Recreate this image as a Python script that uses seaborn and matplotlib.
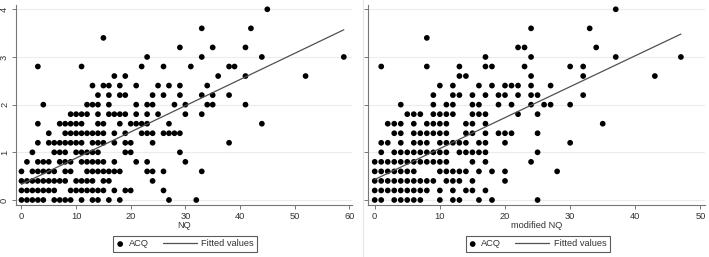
import numpy as np
import pandas as pd
import matplotlib
matplotlib.use('Agg')
import matplotlib.pyplot as plt
from matplotlib.lines import Line2D
from matplotlib.legend_handler import HandlerLine2D
import seaborn as sns

# ACQ levels (y) and the NQ values (x) seen at each level
acq_levels = [0.0, 0.2, 0.4, 0.6, 0.8, 1.0, 1.2, 1.4, 1.6, 1.8,
              2.0, 2.2, 2.4, 2.6, 2.8, 3.0, 3.2, 3.4, 3.6, 4.0]

nq_by_level = [
    [0, 1, 2, 3, 4, 6, 7, 8, 9, 11, 13, 14, 16, 18, 27, 32],
    [0, 1, 2, 3, 4, 5, 6, 9, 10, 11, 12, 13, 14, 15, 17, 19, 20, 26],
    [0, 1, 2, 3, 4, 5, 6, 7, 8, 10, 11, 12, 13, 15, 16, 24],
    [0, 2, 3, 4, 5, 6, 8, 9, 12, 13, 14, 15, 16, 17, 18, 23, 24, 26, 33],
    [1, 3, 4, 5, 7, 8, 9, 11, 12, 13, 14, 15, 17, 21, 23, 30],
    [2, 6, 7, 8, 10, 11, 12, 13, 14, 19, 20, 29],
    [3, 5, 6, 7, 8, 9, 10, 11, 13, 14, 15, 17, 19, 20, 24, 38],
    [5, 8, 9, 10, 11, 12, 13, 14, 15, 17, 19, 22, 23, 24, 26, 27, 28, 29],
    [3, 7, 8, 9, 10, 11, 14, 15, 18, 20, 21, 22, 23, 27, 44],
    [9, 10, 11, 12, 14, 16, 17, 18, 19, 21, 23, 25, 30, 33],
    [4, 12, 13, 14, 16, 21, 23, 24, 28, 30, 34, 35, 41],
    [14, 16, 18, 19, 24, 26, 29, 33, 35, 38],
    [13, 15, 16, 18, 21, 25, 27, 29, 34],
    [17, 19, 36, 41, 52],
    [3, 11, 22, 26, 31, 38, 39],
    [23, 33, 44, 59],
    [29, 35, 41],
    [15],
    [33, 42],
    [45],
]

mod_nq_by_level = [
    [0, 1, 3, 4, 5, 6, 7, 10, 12, 13, 16, 18, 25],
    [0, 1, 2, 3, 4, 5, 6, 7, 8, 10, 12, 14, 15, 17],
    [0, 1, 2, 3, 4, 5, 6, 7, 8, 9, 11, 12, 13, 15, 20],
    [0, 1, 2, 3, 4, 5, 6, 10, 11, 12, 13, 14, 16, 18, 20, 28],
    [0, 1, 2, 3, 4, 5, 6, 7, 8, 9, 10, 11, 15, 17, 24],
    [1, 3, 4, 5, 6, 7, 8, 9, 10, 11, 13, 14, 15, 16, 17, 25],
    [1, 2, 4, 6, 7, 8, 10, 11, 12, 13, 14, 16, 17, 20, 30],
    [3, 4, 6, 7, 8, 9, 10, 11, 14, 15, 17, 19, 20, 21, 25],
    [2, 3, 4, 6, 8, 9, 10, 11, 14, 15, 17, 35],
    [5, 6, 7, 9, 10, 11, 12, 15, 16, 17, 22, 25],
    [4, 9, 11, 12, 15, 16, 19, 21, 24, 26, 27, 30],
    [9, 12, 13, 15, 17, 19, 20, 22, 24, 25, 32],
    [10, 12, 16, 18, 20, 21, 22, 24, 27],
    [13, 14, 24, 32, 43],
    [1, 8, 13, 17, 18, 23, 30, 32],
    [17, 24, 37, 47],
    [22, 23, 34],
    [8],
    [24, 33],
    [37],
]

# fitted values (end points of the regression line)
fit_nq = [0, 59]
fit_acq_nq = [0.33, 3.57]
fit_mod_nq = [0, 47]
fit_acq_mod = [0.43, 3.48]

x_ticks_left = [0, 10, 20, 30, 40, 50, 60]
x_ticks_right = [0, 10, 20, 30, 40, 50]
y_ticks = [0, 1, 2, 3, 4]


def to_frame(levels, groups):
    rows = [(x, y) for y, xs in zip(levels, groups) for x in xs]
    return pd.DataFrame(rows, columns=['x', 'ACQ'])


class LongLine(HandlerLine2D):
    # line handle that reaches further left than the (short) handle box
    def __init__(self, extra, **kw):
        super().__init__(**kw)
        self.extra = extra

    def create_artists(self, legend, orig_handle, xdescent, ydescent,
                       width, height, fontsize, trans):
        return super().create_artists(legend, orig_handle, xdescent + self.extra,
                                      ydescent, width + self.extra, height,
                                      fontsize, trans)


df_left = to_frame(acq_levels, nq_by_level)
df_right = to_frame(acq_levels, mod_nq_by_level)

sns.set_style('white')
plt.rcParams['font.family'] = ['Liberation Sans', 'DejaVu Sans']
FS = 6.7
plt.rcParams['font.size'] = FS

W, H = 709, 257
fig = plt.figure(figsize=(W / 100, H / 100), dpi=100)

# axes boxes in pixels: left, right, top, bottom
boxes = [(16, 352, 5, 205), (368, 705, 5, 205)]
axes = [fig.add_axes([l / W, 1 - b / H, (r - l) / W, (b - t) / H]) for l, r, t, b in boxes]

panels = [
    (axes[0], df_left, fit_nq, fit_acq_nq, 'NQ', x_ticks_left, (-1.0, 60.5), True),
    (axes[1], df_right, fit_mod_nq, fit_acq_mod, 'modified NQ', x_ticks_right, (-1.03, 50.7), False),
]

for ax, df, fx, fy, xlabel, xticks, xlim, show_ylabels in panels:
    sns.scatterplot(data=df, x='x', y='ACQ', ax=ax, color='black', s=17,
                    edgecolor='none', label='ACQ', zorder=3)
    sns.lineplot(x=fx, y=fy, ax=ax, color='#505050', linewidth=0.9,
                 label='Fitted values', zorder=4)
    ax.set_xlim(*xlim)
    ax.set_ylim(-0.105, 4.09)
    ax.set_xticks(xticks)
    ax.set_yticks(y_ticks)
    ax.grid(axis='y', color='#ececec', linewidth=0.8)
    ax.set_axisbelow(True)
    for side in ['top', 'right']:
        ax.spines[side].set_visible(False)
    for side in ['left', 'bottom']:
        ax.spines[side].set_color('#777777')
        ax.spines[side].set_linewidth(0.8)
    ax.tick_params(axis='both', direction='out', length=3, width=0.7,
                   color='#777777', labelcolor='#333333', labelsize=FS, pad=2,
                   left=True, bottom=True)
    if show_ylabels:
        plt.setp(ax.get_yticklabels(), rotation=90, va='center')
    else:
        ax.set_yticklabels([])
    ax.set_xlabel(xlabel, color='#333333', fontsize=FS, labelpad=0)
    ax.set_ylabel('')

    handles, labels = ax.get_legend_handles_labels()
    leg = ax.legend(handles, labels, loc='center', bbox_to_anchor=(0.504, -0.195),
                    ncol=2, frameon=True, fancybox=False, fontsize=FS,
                    handlelength=0.8, handletextpad=0.5, columnspacing=4.4,
                    borderpad=0.35, markerscale=1.0,
                    handler_map={handles[1]: LongLine(19)})
    leg.get_frame().set_edgecolor('#333333')
    leg.get_frame().set_linewidth(0.8)
    for t in leg.get_texts():
        t.set_color('#333333')

# faint seam between the two pasted panels
fig.add_artist(Line2D([363 / W, 363 / W], [0, 1], color='#e6e6e6', linewidth=0.8))

fig.savefig('out.png', dpi=100, facecolor='white')
